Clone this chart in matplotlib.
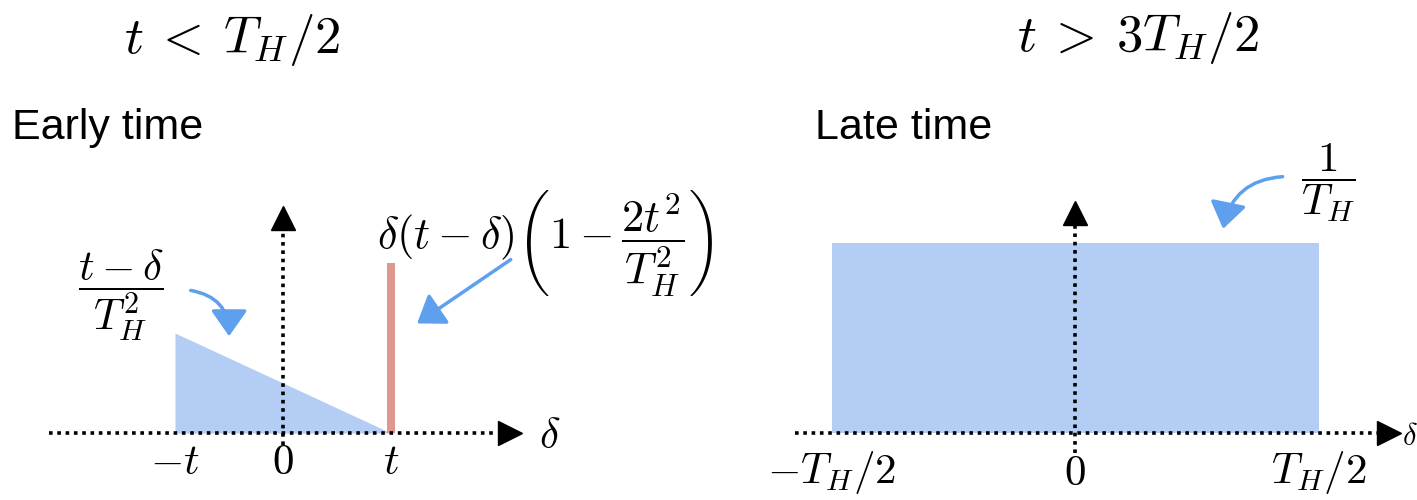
import numpy as np
import matplotlib
matplotlib.use("Agg")
import matplotlib.pyplot as plt
from matplotlib.patches import FancyArrowPatch

plt.rcParams['mathtext.fontset'] = 'cm'

# early time panel (delta in units of t, height in units of 2t/T_H^2)
early_ticks = [-1, 0, 1]
early_labels = [r'$-t$', r'$0$', r'$t$']
tri_x = [-1, 1]
tri_y = [1.0, 0.0]
spike_x = 1.0
spike_h = 1.7

# late time panel (delta in units of T_H, height in units of 1/T_H)
late_ticks = [-0.5, 0, 0.5]
late_labels = [r'$-T_H/2$', r'$0$', r'$T_H/2$']
rect_x = [-0.5, 0.5]
rect_h = 1.0

blue_fill = '#b3cdf5'
blue_arrow = '#5fa0ee'
red_bar = '#dd9990'

fig = plt.figure(figsize=(14.17, 5), dpi=100)

def make_axes(rect, xlim, ylim):
    ax = fig.add_axes(rect)
    ax.set_xlim(*xlim)
    ax.set_ylim(*ylim)
    ax.axis('off')
    return ax

def draw_axes(ax, x0, x1, xtip, y0, y1, ytip):
    ax.plot([x0, x1], [0, 0], color='black', lw=2.6, ls=(0, (1, 1.3)), zorder=3)
    ax.plot([0, 0], [y0, y1], color='black', lw=2.6, ls=(0, (1, 1.3)), zorder=3)
    ax.plot([xtip], [0], marker='>', ms=17, color='black', zorder=4, clip_on=False)
    ax.plot([0], [ytip], marker='^', ms=17, color='black', zorder=4, clip_on=False)

# ---- early time ----
sx = 108
x0px = 283
ax1 = make_axes([0, 0, 708.5 / 1417, 1],
                ((0 - x0px) / sx, (708.5 - x0px) / sx),
                ((433 - 500) / 100, 433 / 100))
ax1.fill_between(tri_x, tri_y, 0, color=blue_fill, lw=0, zorder=1)
ax1.bar([spike_x], [spike_h], width=0.075, color=red_bar, zorder=2)
draw_axes(ax1, -2.17, 1.95, 2.1, -0.12, 2.05, 2.15)
for xv, lab in zip(early_ticks, early_labels):
    ax1.text(xv, -0.29, lab, ha='center', va='center', fontsize=31)
ax1.text(2.47, -0.03, r'$\delta$', ha='center', va='center', fontsize=31)
ax1.text(-1.5, 1.38, r'$\dfrac{t-\delta}{T_H^2}$', ha='center', va='center', fontsize=31)
ax1.text(2.43, 1.9, r'$\delta(t-\delta)\left(1-\dfrac{2t^2}{T_H^2}\right)$',
         ha='center', va='center', fontsize=32)
ax1.add_patch(FancyArrowPatch((-0.88, 1.43), (-0.5, 0.94),
                              connectionstyle='arc3,rad=-0.45', arrowstyle='-|>,head_length=10,head_width=7',
                              color=blue_arrow, lw=2.5, mutation_scale=1.6))
ax1.add_patch(FancyArrowPatch((2.13, 1.75), (1.22, 1.08),
                              arrowstyle='-|>,head_length=10,head_width=7',
                              color=blue_arrow, lw=2.5, mutation_scale=1.6))

# ---- late time ----
sx2 = 487
sy2 = 190
x0px2 = 1075
ax2 = make_axes([708.5 / 1417, 0, 708.5 / 1417, 1],
                ((708.5 - x0px2) / sx2, (1417 - x0px2) / sx2),
                ((433 - 500) / sy2, 433 / sy2))
ax2.fill_between(rect_x, [rect_h, rect_h], 0, color=blue_fill, lw=0, zorder=1)
draw_axes(ax2, -0.575, 0.63, 0.645, -0.105, 1.1, 1.16)
for xv, lab in zip(late_ticks, late_labels):
    ax2.text(xv, -0.21, lab, ha='center', va='center', fontsize=31)
ax2.text(0.672, -0.02, r'$\delta$', ha='left', va='center', fontsize=22)
ax2.text(0.52, 1.32, r'$\dfrac{1}{T_H}$', ha='center', va='center', fontsize=31)
ax2.add_patch(FancyArrowPatch((0.432, 1.35), (0.303, 1.06),
                              connectionstyle='arc3,rad=0.4', arrowstyle='-|>,head_length=10,head_width=7',
                              color=blue_arrow, lw=2.5, mutation_scale=1.6))

# titles
fig.text(232 / 1417, 1 - 40 / 500, r'$t\:<\:T_H/2$', ha='center', va='center', fontsize=38)
fig.text(1138 / 1417, 1 - 38 / 500, r'$t\:>\:3T_H/2$', ha='center', va='center', fontsize=38)
fig.text(12 / 1417, 1 - 128 / 500, 'Early time', ha='left', va='center', fontsize=31,
         family='Liberation Sans')
fig.text(815 / 1417, 1 - 128 / 500, 'Late time', ha='left', va='center', fontsize=31,
         family='Liberation Sans')

fig.savefig('out.png', dpi=100)
